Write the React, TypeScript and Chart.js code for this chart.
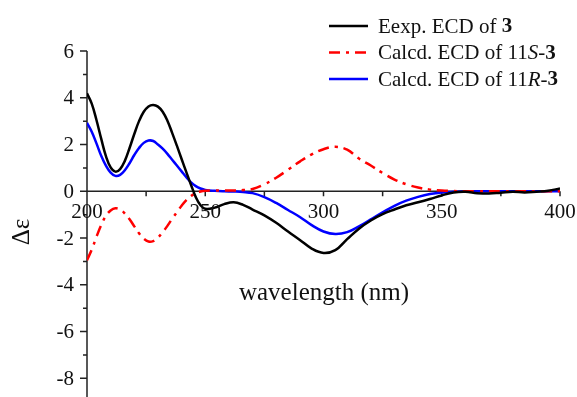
import React, { useEffect, useRef } from "react";
import { Chart, registerables } from "chart.js";

Chart.register(...registerables);

const wavelengths = [200,202,204,206,208,210,212,214,216,218,220,222,224,226,228,230,232,234,236,238,240,242,244,246,248,250,254,258,262,266,270,275,280,285,290,295,300,305,310,315,320,325,330,335,340,345,350,355,360,365,370,375,380,385,390,395,400];

const expECD = [4.19,3.75,3.05,2.25,1.5,1.02,0.84,0.95,1.3,1.85,2.45,3.0,3.4,3.63,3.69,3.62,3.4,3.02,2.5,1.95,1.38,0.82,0.27,-0.25,-0.6,-0.75,-0.7,-0.55,-0.47,-0.58,-0.78,-1.03,-1.35,-1.72,-2.08,-2.45,-2.64,-2.52,-2.05,-1.6,-1.25,-0.98,-0.78,-0.6,-0.47,-0.33,-0.18,-0.05,-0.02,-0.08,-0.1,-0.06,-0.02,-0.05,-0.02,0.02,0.12];

const calc11S = [-2.95,-2.5,-1.95,-1.45,-1.05,-0.82,-0.73,-0.78,-0.95,-1.2,-1.5,-1.8,-2.03,-2.15,-2.13,-1.98,-1.75,-1.48,-1.18,-0.9,-0.62,-0.38,-0.2,-0.08,-0.01,0.02,0.03,0.03,0.03,0.05,0.1,0.3,0.58,0.92,1.27,1.58,1.8,1.9,1.78,1.4,1.1,0.78,0.5,0.3,0.16,0.07,0.03,0.01,0,0,0,0,0,0,0,0,0];

const calc11R = [2.93,2.55,2.05,1.52,1.1,0.8,0.66,0.7,0.9,1.2,1.55,1.85,2.07,2.17,2.15,2.0,1.82,1.6,1.35,1.1,0.85,0.6,0.38,0.22,0.12,0.06,0.02,0.0,-0.01,-0.03,-0.08,-0.25,-0.5,-0.8,-1.1,-1.45,-1.72,-1.83,-1.75,-1.5,-1.2,-0.9,-0.62,-0.4,-0.24,-0.12,-0.05,-0.02,0,0,0,0,0,0,0,0,0];

const xTicks = [200, 250, 300, 350, 400];
const xMinorTicks = [225, 275, 325, 375];
const yTicks = [6, 4, 2, 0, -2, -4, -6, -8];
const yMinorTicks = [5, 3, 1, -1, -3, -5, -7];

const FONT = '"Liberation Serif", "Times New Roman", serif';

type Seg = { t: string; w?: string; s?: string };
const legendItems: { color: string; dash: number[]; segs: Seg[] }[] = [
  { color: "#000000", dash: [], segs: [{ t: "Eexp. ECD of " }, { t: "3", w: "bold" }] },
  { color: "#ff0000", dash: [11, 6, 3, 6], segs: [{ t: "Calcd. ECD of 11" }, { t: "S", s: "italic" }, { t: "-" }, { t: "3", w: "bold" }] },
  { color: "#0000ff", dash: [], segs: [{ t: "Calcd. ECD of 11" }, { t: "R", s: "italic" }, { t: "-" }, { t: "3", w: "bold" }] },
];

const axesPlugin = {
  id: "customAxes",
  beforeDatasetsDraw(chart: any) {
    const ctx = chart.ctx;
    const xs = chart.scales.x;
    const ys = chart.scales.y;
    const area = chart.chartArea;
    const x0 = xs.getPixelForValue(200);
    const y0 = ys.getPixelForValue(0);
    ctx.save();
    ctx.strokeStyle = "#222";
    ctx.lineWidth = 1.5;
    ctx.beginPath();
    ctx.moveTo(x0, area.top);
    ctx.lineTo(x0, area.bottom);
    ctx.moveTo(x0, y0);
    ctx.lineTo(xs.getPixelForValue(400), y0);
    yTicks.forEach((v) => {
      const y = ys.getPixelForValue(v);
      ctx.moveTo(x0 - 7, y);
      ctx.lineTo(x0, y);
    });
    yMinorTicks.forEach((v) => {
      const y = ys.getPixelForValue(v);
      ctx.moveTo(x0 - 4, y);
      ctx.lineTo(x0, y);
    });
    xTicks.concat(xMinorTicks).forEach((v) => {
      const x = xs.getPixelForValue(v);
      ctx.moveTo(x, y0);
      ctx.lineTo(x, y0 + 5);
    });
    ctx.stroke();
    ctx.restore();
  },
  afterDraw(chart: any) {
    const ctx = chart.ctx;
    const xs = chart.scales.x;
    const ys = chart.scales.y;
    const x0 = xs.getPixelForValue(200);
    const y0 = ys.getPixelForValue(0);
    ctx.save();
    ctx.fillStyle = "#111";
    ctx.font = `21px ${FONT}`;
    ctx.textAlign = "right";
    ctx.textBaseline = "middle";
    yTicks.forEach((v) => {
      ctx.fillText(String(v), x0 - 13, ys.getPixelForValue(v) + 1);
    });
    ctx.textAlign = "center";
    xTicks.forEach((v) => {
      ctx.fillText(String(v), xs.getPixelForValue(v), y0 + 21);
    });
    ctx.font = `25px ${FONT}`;
    ctx.fillText("wavelength (nm)", 324, 293);
    ctx.save();
    ctx.translate(22, 232);
    ctx.rotate(-Math.PI / 2);
    ctx.font = `25px ${FONT}`;
    ctx.fillText("Δε", 0, 0);
    ctx.restore();

    legendItems.forEach((item, i) => {
      const y = 26 + i * 26.5;
      ctx.save();
      ctx.strokeStyle = item.color;
      ctx.lineWidth = 2.5;
      ctx.setLineDash(item.dash);
      ctx.beginPath();
      ctx.moveTo(329, y);
      ctx.lineTo(368, y);
      ctx.stroke();
      ctx.restore();
      let x = 378;
      ctx.textAlign = "left";
      item.segs.forEach((sg) => {
        ctx.font = `${sg.s || "normal"} ${sg.w || "normal"} 21px ${FONT}`;
        ctx.fillText(sg.t, x, y + 1);
        x += ctx.measureText(sg.t).width;
      });
    });
    ctx.restore();
  },
};

export default function App() {
  const ref = useRef<HTMLCanvasElement | null>(null);
  useEffect(() => {
    document.body.style.margin = "0";
    if (!ref.current) return;
    const mk = (vals: number[]) => wavelengths.map((w, i) => ({ x: w, y: vals[i] }));
    const common = { borderWidth: 2.5, pointRadius: 0, tension: 0.4, fill: false };
    const chart = new Chart(ref.current, {
      type: "line",
      data: {
        datasets: [
          { label: "Eexp. ECD of 3", data: mk(expECD), borderColor: "#000000", ...common },
          { label: "Calcd. ECD of 11S-3", data: mk(calc11S), borderColor: "#ff0000", borderDash: [11, 6, 3, 6], ...common },
          { label: "Calcd. ECD of 11R-3", data: mk(calc11R), borderColor: "#0000ff", ...common },
        ],
      },
      options: {
        responsive: false,
        animation: false,
        devicePixelRatio: 1,
        layout: { padding: { left: 87, right: 17, top: 51, bottom: 0 } },
        plugins: { legend: { display: false }, tooltip: { enabled: false } },
        scales: {
          x: { type: "linear", min: 200, max: 400, display: false },
          y: { type: "linear", min: -8.8, max: 6, display: false },
        },
      },
      plugins: [axesPlugin],
    } as any);
    return () => chart.destroy();
  }, []);
  return (
    <div style={{ width: 577, height: 397, background: "#fff" }}>
      <canvas ref={ref} width={577} height={397} style={{ display: "block" }} />
    </div>
  );
}
